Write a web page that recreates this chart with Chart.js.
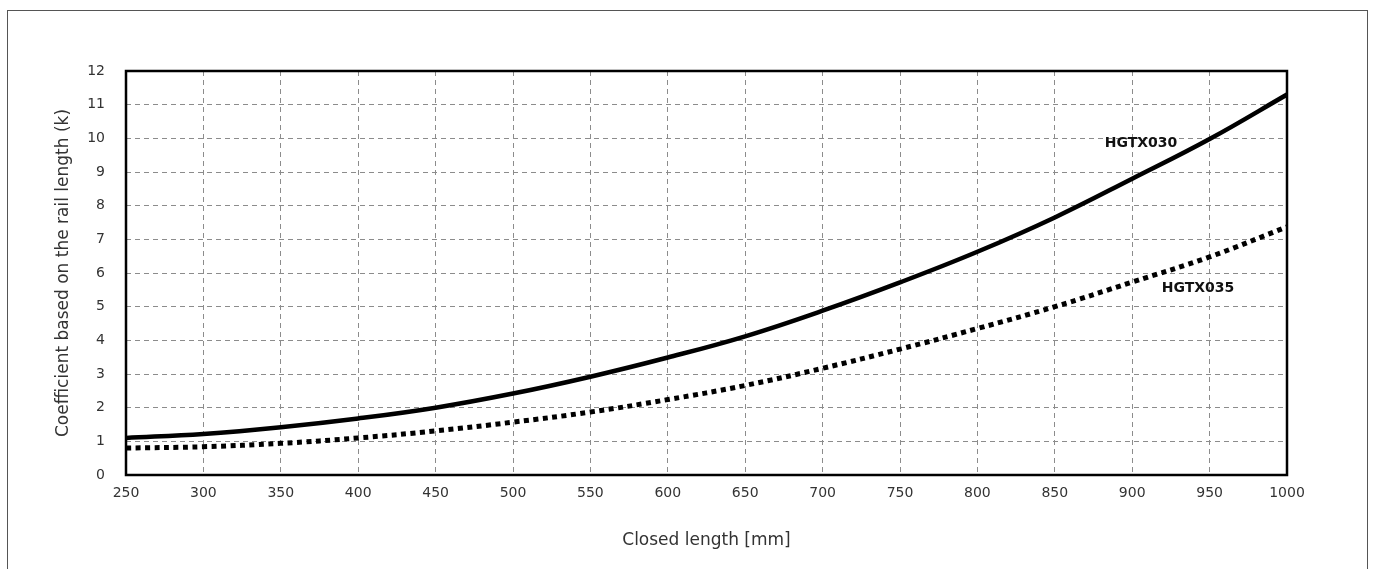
<!DOCTYPE html>
<html>
<head>
<meta charset="utf-8">
<script src="https://cdn.jsdelivr.net/npm/chart.js@4/dist/chart.umd.min.js"></script>
<style>
  html, body { margin: 0; padding: 0; background: #fff; overflow: hidden; }
  #wrap { position: relative; width: 1373px; height: 569px; }
  #frame { position: absolute; left: 7px; top: 10px; width: 1361px; height: 620px; border: 1px solid #555; box-sizing: border-box; }
  canvas { position: absolute; left: 0; top: 0; }
</style>
</head>
<body>
<div id="wrap">
  <div id="frame"></div>
  <canvas id="c" width="1373" height="569"></canvas>
</div>
<script>
// Closed length [mm]
const closedLength = [250, 300, 350, 400, 450, 500, 550, 600, 650, 700, 750, 800, 850, 900, 950, 1000];
// Coefficient k
const hgtx030 = [1.10, 1.22, 1.42, 1.68, 2.00, 2.42, 2.92, 3.49, 4.12, 4.88, 5.72, 6.63, 7.65, 8.80, 9.98, 11.3];
const hgtx035 = [0.80, 0.84, 0.94, 1.10, 1.31, 1.57, 1.87, 2.24, 2.66, 3.17, 3.74, 4.35, 5.00, 5.73, 6.48, 7.37];
const seriesNames = ['HGTX030', 'HGTX035'];
// label anchors (data coordinates)
const labelAnchors = [{x: 905.7, y: 9.86}, {x: 942.5, y: 5.55}];

const FONT = '"DejaVu Sans", "Open Sans", sans-serif';

const borderPlugin = {
  id: 'plotBorder',
  afterDatasetsDraw(chart) {
    const {ctx, chartArea: a} = chart;
    ctx.save();
    ctx.strokeStyle = '#000';
    ctx.lineWidth = 2.5;
    ctx.strokeRect(a.left, a.top, a.right - a.left, a.bottom - a.top);
    ctx.restore();
  }
};

const labelPlugin = {
  id: 'seriesLabels',
  afterDraw(chart) {
    const {ctx, scales: {x, y}} = chart;
    ctx.save();
    ctx.font = 'bold 14px ' + FONT;
    ctx.fillStyle = '#111';
    ctx.textAlign = 'center';
    ctx.textBaseline = 'middle';
    seriesNames.forEach((n, i) => {
      ctx.fillText(n, x.getPixelForValue(labelAnchors[i].x), y.getPixelForValue(labelAnchors[i].y));
    });
    ctx.restore();
  }
};

const toPts = arr => closedLength.map((v, i) => ({x: v, y: arr[i]}));

new Chart(document.getElementById('c'), {
  type: 'line',
  data: {
    datasets: [
      { label: seriesNames[0], data: toPts(hgtx030), borderColor: '#000', borderWidth: 4.5,
        pointRadius: 0, tension: 0.4, fill: false },
      { label: seriesNames[1], data: toPts(hgtx035), borderColor: '#000', borderWidth: 5,
        borderDash: [5, 4.5], borderCapStyle: 'butt', pointRadius: 0, tension: 0.4, fill: false }
    ]
  },
  options: {
    responsive: false,
    animation: false,
    devicePixelRatio: 1,
    layout: { padding: { left: 0, right: 86, top: 71, bottom: 0 } },
    plugins: { legend: { display: false }, tooltip: { enabled: false } },
    scales: {
      x: {
        type: 'linear', min: 250, max: 1000,
        afterFit(s) { s.height = 94; },
        afterBuildTicks(s) { s.ticks = closedLength.map(v => ({value: v})); },
        ticks: { color: '#333', font: { family: FONT, size: 14 }, padding: 10, maxRotation: 0,
                 callback: v => String(v) },
        grid: { color: '#8c8c8c', lineWidth: 1, drawTicks: false },
        border: { display: false, dash: [5, 4] },
        title: { display: true, text: 'Closed length [mm]', color: '#333',
                 font: { family: FONT, size: 17 }, padding: { top: 0, bottom: 18 } }
      },
      y: {
        min: 0, max: 12,
        afterFit(s) { s.width = 126; },
        ticks: { stepSize: 1, color: '#333', font: { family: FONT, size: 14 }, padding: 21 },
        grid: { color: '#8c8c8c', lineWidth: 1, drawTicks: false },
        border: { display: false, dash: [5, 4] },
        title: { display: true, text: 'Coefficient based on the rail length (k)', color: '#333',
                 font: { family: FONT, size: 17 }, padding: { top: 53, bottom: 0 } }
      }
    }
  },
  plugins: [borderPlugin, labelPlugin]
});
</script>
</body>
</html>
